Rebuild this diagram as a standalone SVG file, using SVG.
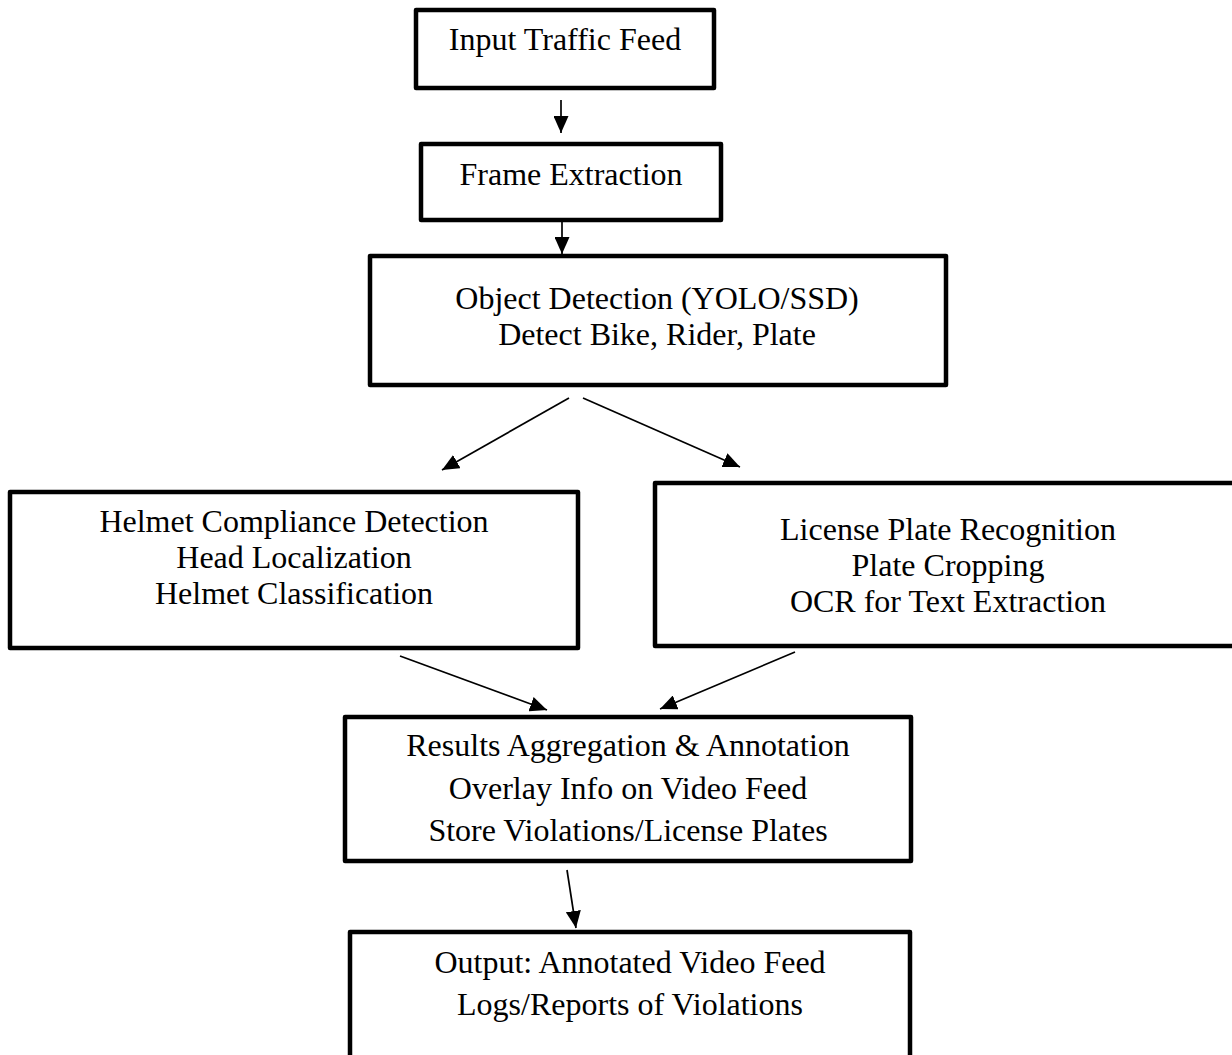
<svg xmlns="http://www.w3.org/2000/svg" width="1232" height="1055" viewBox="0 0 1232 1055">
<defs>
<style>
.box{fill:#fff;stroke:#000;stroke-width:4.5;stroke-linejoin:round}
.t{font-family:"Liberation Serif","Times New Roman",serif;font-size:32px;fill:#000;text-anchor:middle}
.c{stroke:#000;stroke-width:1.7;fill:none;marker-end:url(#ah)}
</style>
<marker id="ah" markerWidth="17" markerHeight="15" refX="17" refY="7.5" orient="auto" markerUnits="userSpaceOnUse">
<path d="M0,0 L17,7.5 L0,15 z" fill="#000"/>
</marker>
</defs>
<rect width="1232" height="1055" fill="#fff"/>
<g id="n1"><rect class="box" x="416" y="10" width="298" height="78"/><text class="t" x="565" y="50">Input Traffic Feed</text></g>
<g id="n2"><rect class="box" x="421" y="144" width="300" height="76"/><text class="t" x="571" y="185">Frame Extraction</text></g>
<g id="n3"><rect class="box" x="370" y="256" width="576" height="129"/><text class="t" x="657" y="309">Object Detection (YOLO/SSD)</text><text class="t" x="657" y="345">Detect Bike, Rider, Plate</text></g>
<g id="n4"><rect class="box" x="10" y="492" width="568" height="156"/><text class="t" x="294" y="532">Helmet Compliance Detection</text><text class="t" x="294" y="568">Head Localization</text><text class="t" x="294" y="604">Helmet Classification</text></g>
<g id="n5"><rect class="box" x="655" y="483" width="600" height="163"/><text class="t" x="948" y="540">License Plate Recognition</text><text class="t" x="948" y="576">Plate Cropping</text><text class="t" x="948" y="612">OCR for Text Extraction</text></g>
<g id="n6"><rect class="box" x="345" y="717" width="566" height="144"/><text class="t" x="628" y="756">Results Aggregation &amp; Annotation</text><text class="t" x="628" y="799">Overlay Info on Video Feed</text><text class="t" x="628" y="841">Store Violations/License Plates</text></g>
<g id="n7"><rect class="box" x="350" y="932" width="560" height="140"/><text class="t" x="630" y="973">Output: Annotated Video Feed</text><text class="t" x="630" y="1015">Logs/Reports of Violations</text></g>
<g id="connectors">
<line class="c" x1="561" y1="100" x2="561" y2="133"/>
<line class="c" x1="562" y1="222" x2="562" y2="254"/>
<line class="c" x1="569" y1="398" x2="442" y2="470"/>
<line class="c" x1="583" y1="398" x2="740" y2="467"/>
<line class="c" x1="400" y1="656" x2="547" y2="710"/>
<line class="c" x1="795" y1="652" x2="660" y2="709"/>
<line class="c" x1="567" y1="870" x2="576" y2="928"/>
</g>
</svg>
